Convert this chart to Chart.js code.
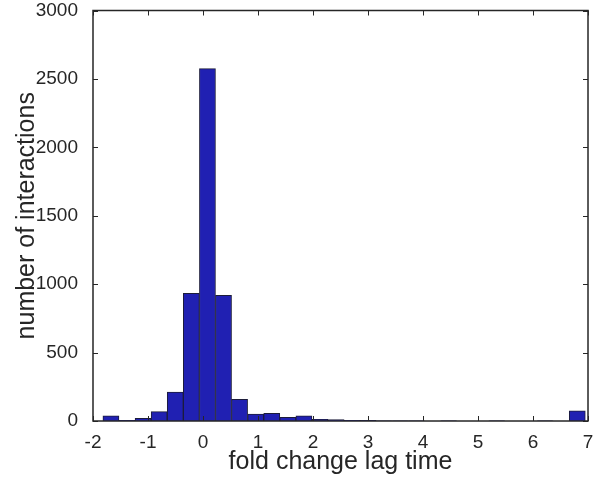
<!DOCTYPE html>
<html>
<head>
<meta charset="utf-8">
<script src="https://cdn.jsdelivr.net/npm/chart.js@4.4.1/dist/chart.umd.min.js"></script>
<style>
    html, body { margin: 0; padding: 0; background: #fff; }
    #wrap { width: 601px; height: 480px; }
</style>
</head>
<body>
<div id="wrap"><canvas id="histChart" width="601" height="480"></canvas></div>
<script>
// bin centres (fold change lag time) and counts per bin
const binCenters = [-1.674, -1.381, -1.089, -0.797, -0.504, -0.212, 0.081, 0.373, 0.665, 0.958,
    1.250, 1.543, 1.835, 2.127, 2.420, 2.712, 3.004, 3.297, 3.589, 3.881,
    4.174, 4.466, 4.758, 5.051, 5.343, 5.635, 5.928, 6.220, 6.512, 6.805];
const counts = [38, 5, 20, 68, 212, 933, 2575, 918, 158, 51,
    56, 27, 37, 12, 10, 5, 4, 2, 1, 1,
    0, 1, 0, 0, 1, 0, 0, 1, 0, 75];
const xTicks = [-2, -1, 0, 1, 2, 3, 4, 5, 6, 7];
const yTicks = [0, 500, 1000, 1500, 2000, 2500, 3000];

const FONT = '"Liberation Sans", Arial, Helvetica, sans-serif';
const INK = '#262626';

// MATLAB style box with inward tick marks
const axesBox = {
    id: 'axesBox',
    afterDatasetsDraw(chart) {
        const { ctx, chartArea: a, scales } = chart;
        const len = 5;
        ctx.save();
        ctx.strokeStyle = INK;
        ctx.lineWidth = 1.5;
        ctx.strokeRect(a.left, a.top, a.right - a.left, a.bottom - a.top);
        ctx.lineWidth = 1;
        ctx.beginPath();
        xTicks.forEach(v => {
            const px = Math.round(scales.x.getPixelForValue(v)) + 0.5;
            ctx.moveTo(px, a.bottom); ctx.lineTo(px, a.bottom - len);
            ctx.moveTo(px, a.top); ctx.lineTo(px, a.top + len);
        });
        yTicks.forEach(v => {
            const py = Math.round(scales.y.getPixelForValue(v)) + 0.5;
            ctx.moveTo(a.left, py); ctx.lineTo(a.left + len, py);
            ctx.moveTo(a.right, py); ctx.lineTo(a.right - len, py);
        });
        ctx.stroke();
        ctx.restore();
    }
};

new Chart(document.getElementById('histChart'), {
    type: 'bar',
    data: {
        datasets: [{
            data: binCenters.map((c, i) => ({ x: c, y: counts[i] })),
            backgroundColor: '#2020b2',
            borderColor: '#1c1c3a',
            borderWidth: 1,
            barPercentage: 1,
            categoryPercentage: 1,
            grouped: false
        }]
    },
    options: {
        responsive: false,
        animation: false,
        layout: { padding: { left: 10, right: 13, top: 0, bottom: 2 } },
        plugins: { legend: { display: false }, tooltip: { enabled: false } },
        scales: {
            x: {
                type: 'linear',
                min: -2,
                max: 7,
                offset: false,
                afterBuildTicks: s => { s.ticks = xTicks.map(v => ({ value: v })); },
                afterFit: s => { s.height = 57; },
                grid: { display: false },
                border: { display: false },
                ticks: { color: INK, font: { family: FONT, size: 19 }, padding: 2, maxRotation: 0, callback: v => String(v) },
                title: { display: true, text: 'fold change lag time', color: INK, font: { family: FONT, size: 25 }, padding: { top: 0, bottom: 1 } }
            },
            y: {
                min: 0,
                max: 3000,
                afterBuildTicks: s => { s.ticks = yTicks.map(v => ({ value: v })); },
                afterFit: s => { s.width = 83; s.paddingTop = 10.5; s.paddingBottom = 0; },
                grid: { display: false },
                border: { display: false },
                ticks: { color: INK, font: { family: FONT, size: 19 }, padding: 7, callback: v => String(v) },
                title: { display: true, text: 'number of interactions', color: INK, font: { family: FONT, size: 25 }, padding: { top: 2, bottom: 0 } }
            }
        }
    },
    plugins: [axesBox]
});
</script>
</body>
</html>
